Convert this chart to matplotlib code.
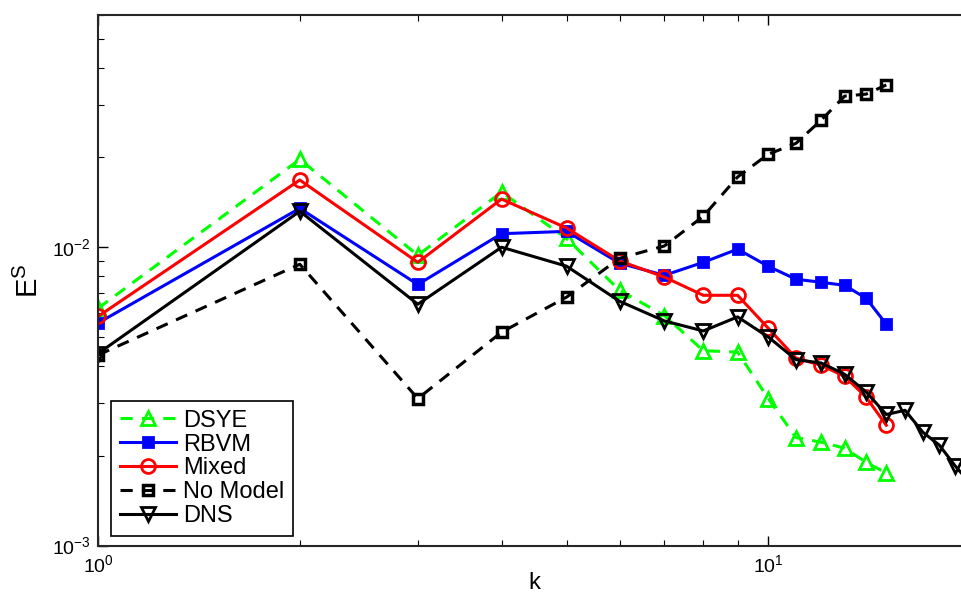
import numpy as np
import matplotlib.pyplot as plt
from matplotlib.ticker import LogLocator, NullFormatter

plt.rcParams['font.family'] = ['Liberation Sans', 'DejaVu Sans']
plt.rcParams['mathtext.fontset'] = 'custom'
plt.rcParams['mathtext.rm'] = 'Liberation Sans'
plt.rcParams['mathtext.it'] = 'Liberation Sans'

k_model = np.arange(1, 16)
k_dns = np.arange(1, 21)

dsye = [6.24e-3, 1.97e-2, 9.4e-3, 1.53e-2, 1.07e-2, 7.17e-3, 5.9e-3, 4.5e-3,
        4.45e-3, 3.11e-3, 2.3e-3, 2.22e-3, 2.12e-3, 1.9e-3, 1.75e-3]
rbvm = [5.57e-3, 1.35e-2, 7.5e-3, 1.11e-2, 1.13e-2, 8.84e-3, 8.05e-3, 8.9e-3,
        9.85e-3, 8.63e-3, 7.81e-3, 7.63e-3, 7.45e-3, 6.74e-3, 5.52e-3]
mixed = [5.86e-3, 1.68e-2, 8.9e-3, 1.45e-2, 1.16e-2, 9.0e-3, 7.94e-3, 6.9e-3,
         6.9e-3, 5.35e-3, 4.25e-3, 4.02e-3, 3.69e-3, 3.14e-3, 2.53e-3]
no_model = [4.35e-3, 8.77e-3, 3.11e-3, 5.19e-3, 6.8e-3, 9.18e-3, 1.01e-2, 1.27e-2,
            1.72e-2, 2.05e-2, 2.23e-2, 2.67e-2, 3.21e-2, 3.26e-2, 3.5e-2]
dns = [4.4e-3, 1.32e-2, 6.44e-3, 1.0e-2, 8.64e-3, 6.59e-3, 5.66e-3, 5.24e-3,
       5.84e-3, 5.0e-3, 4.2e-3, 4.09e-3, 3.75e-3, 3.27e-3, 2.75e-3, 2.84e-3,
       2.4e-3, 2.17e-3, 1.85e-3, 1.62e-3]

fig = plt.figure(figsize=(9.61, 5.94), dpi=100)
ax = fig.add_axes([0.102, 0.0816, 0.9074, 0.893])

mk = dict(markerfacecolor='none', markeredgewidth=2, markersize=10, linewidth=2.2)
ax.plot(k_model, dsye, '--', color='#00ff00', marker='^', label='DSYE', dashes=(4, 3), **mk)
ax.plot(k_model, rbvm, '-', color='#0000ff', marker='s', label='RBVM',
        markerfacecolor='#0000ff', markeredgewidth=2, markersize=7, linewidth=2.2)
ax.plot(k_model, mixed, '-', color='#ff0000', marker='o', label='Mixed', **mk)
ax.plot(k_model, no_model, '--', color='black', marker='s', label='No Model', dashes=(4, 3),
        markerfacecolor='none', markeredgewidth=2.5, markersize=7, linewidth=2.2)
ax.plot(k_dns, dns, '-', color='black', marker='v', label='DNS', **mk)

ax.set_xscale('log')
ax.set_yscale('log')
ax.set_xlim(1, 20)
ax.set_ylim(1e-3, 6e-2)

ax.xaxis.set_major_locator(LogLocator(base=10, numticks=10))
ax.yaxis.set_major_locator(LogLocator(base=10, numticks=10))
ax.xaxis.set_minor_locator(LogLocator(base=10, subs=np.arange(2, 10), numticks=20))
ax.yaxis.set_minor_locator(LogLocator(base=10, subs=np.arange(2, 10), numticks=20))
ax.xaxis.set_minor_formatter(NullFormatter())
ax.yaxis.set_minor_formatter(NullFormatter())
ax.tick_params(which='both', direction='in', top=True, right=False, labelsize=14)
ax.tick_params(axis='x', which='major', pad=6)
ax.tick_params(axis='y', which='major', pad=5)
ax.tick_params(which='major', length=7, width=1)
ax.tick_params(which='minor', length=4, width=0.8)
for s in ax.spines.values():
    s.set_linewidth(1.5)
    s.set_color('#262626')

ax.set_xlabel('k', fontsize=17, labelpad=-3)
ax.set_ylabel('$\\mathregular{E^S}$', fontsize=21, labelpad=6)

leg = ax.legend(loc='lower left', bbox_to_anchor=(0.01, 0.01), fontsize=17,
                fancybox=False, edgecolor='black', framealpha=1,
                handlelength=2.4, borderpad=0.35, labelspacing=0.08, handletextpad=0.3,
                borderaxespad=0.2)
leg.get_frame().set_linewidth(1.2)

fig.savefig('out.png', dpi=100)
